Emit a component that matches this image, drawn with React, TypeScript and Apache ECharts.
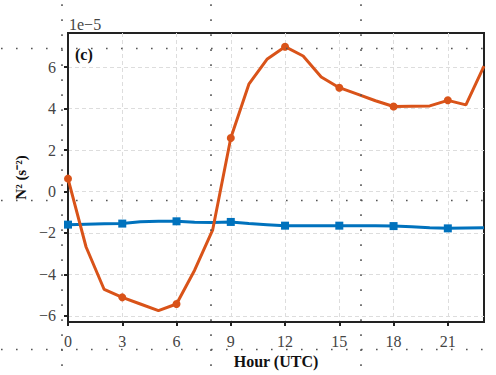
import React, { useEffect, useRef } from "react";
import * as echarts from "echarts";

const hours = [0, 1, 2, 3, 4, 5, 6, 7, 8, 9, 10, 11, 12, 13, 14, 15, 16, 17, 18, 19, 20, 21, 22, 23];
const orangeValues = [0.62, -2.68, -4.73, -5.11, -5.43, -5.75, -5.43, -3.8, -1.85, 2.58, 5.18, 6.38, 6.99, 6.54, 5.53, 5.01, 4.7, 4.38, 4.1, 4.12, 4.13, 4.4, 4.18, 6.05];
const blueValues = [-1.6, -1.58, -1.56, -1.55, -1.46, -1.44, -1.44, -1.49, -1.5, -1.47, -1.55, -1.6, -1.65, -1.65, -1.65, -1.65, -1.65, -1.65, -1.67, -1.7, -1.75, -1.78, -1.76, -1.75];
const xTicks = [0, 3, 6, 9, 12, 15, 18, 21];
const yTicks = [-6, -4, -2, 0, 2, 4, 6];

const FONT = "Liberation Serif, Times New Roman, serif";

export default function App() {
  const ref = useRef<HTMLDivElement>(null);
  useEffect(() => {
    if (!ref.current) return;
    const chart = echarts.init(ref.current, null, { renderer: "svg" });
    const markerSize = (_v: any, p: any) => (p.dataIndex % 3 === 0 ? 8 : 0);
    const dotted: any[] = [];
    [48.5, 200.5, 349.5].forEach((y) =>
      dotted.push({
        type: "line",
        z: 100,
        silent: true,
        shape: { x1: 1, y1: y, x2: 496, y2: y },
        style: { stroke: "#555", lineWidth: 1.6, lineDash: [1.6, 13.4] },
      })
    );
    [62, 211, 361].forEach((x) =>
      dotted.push({
        type: "line",
        z: 100,
        silent: true,
        shape: { x1: x, y1: 4.3, x2: x, y2: 375 },
        style: { stroke: "#555", lineWidth: 1.6, lineDash: [1.6, 13.4] },
      })
    );
    chart.setOption({
      animation: false,
      backgroundColor: "#fff",
      grid: {
        left: 68,
        top: 33,
        right: 12,
        bottom: 53,
        show: true,
        borderColor: "#222",
        borderWidth: 2,
        backgroundColor: "transparent",
      },
      xAxis: {
        type: "value",
        min: 0,
        max: 23,
        interval: 3,
        name: "Hour (UTC)",
        nameLocation: "middle",
        nameGap: 31,
        nameTextStyle: { fontFamily: FONT, fontWeight: "bold", fontSize: 16, color: "#111" },
        axisLine: { show: true, onZero: false, lineStyle: { color: "#222", width: 2 } },
        axisTick: { show: true, length: 4, customValues: xTicks, lineStyle: { color: "#222", width: 2 } },
        axisLabel: { customValues: xTicks, margin: 11, fontFamily: FONT, fontSize: 16, color: "#444" },
        splitLine: { show: true, lineStyle: { color: "#ddd", type: [4, 3], width: 1 } },
      },
      yAxis: {
        type: "value",
        min: -6.3,
        max: 7.65,
        splitNumber: 7,
        name: "N² (s⁻²)",
        nameLocation: "middle",
        nameGap: 38,
        nameTextStyle: { fontFamily: FONT, fontWeight: "bold", fontSize: 15, color: "#111" },
        axisLine: { show: true, onZero: false, lineStyle: { color: "#222", width: 2 } },
        axisTick: { show: true, length: 4, customValues: yTicks, lineStyle: { color: "#222", width: 2 } },
        axisLabel: {
          customValues: yTicks,
          margin: 12,
          fontFamily: FONT,
          fontSize: 16,
          color: "#444",
          formatter: (v: number) => (v < 0 ? "\u2212" + Math.abs(v) : String(v)),
        },
        splitLine: { show: true, lineStyle: { color: "#ddd", type: [4, 3], width: 1 } },
      },
      series: [
        {
          type: "line",
          data: hours.map((h, i) => [h, blueValues[i]]),
          color: "#0072BD",
          lineStyle: { width: 3 },
          symbol: "rect",
          symbolSize: markerSize,
          itemStyle: { color: "#0072BD" },
          z: 3,
        },
        {
          type: "line",
          data: hours.map((h, i) => [h, orangeValues[i]]),
          color: "#D95319",
          lineStyle: { width: 3 },
          symbol: "circle",
          symbolSize: markerSize,
          itemStyle: { color: "#D95319" },
          z: 4,
        },
      ],
      graphic: [
        {
          type: "text",
          left: 69,
          top: 16,
          style: { text: "1e\u22125", fontFamily: FONT, fontSize: 16, fill: "#444" },
        },
        {
          type: "text",
          left: 75,
          top: 46,
          style: { text: "(c)", fontFamily: FONT, fontSize: 16, fontWeight: "bold", fill: "#111" },
        },
        ...dotted,
      ],
    });
    return () => chart.dispose();
  }, []);
  return <div ref={ref} style={{ position: "fixed", left: 0, top: 0, width: 496, height: 375 }} />;
}
